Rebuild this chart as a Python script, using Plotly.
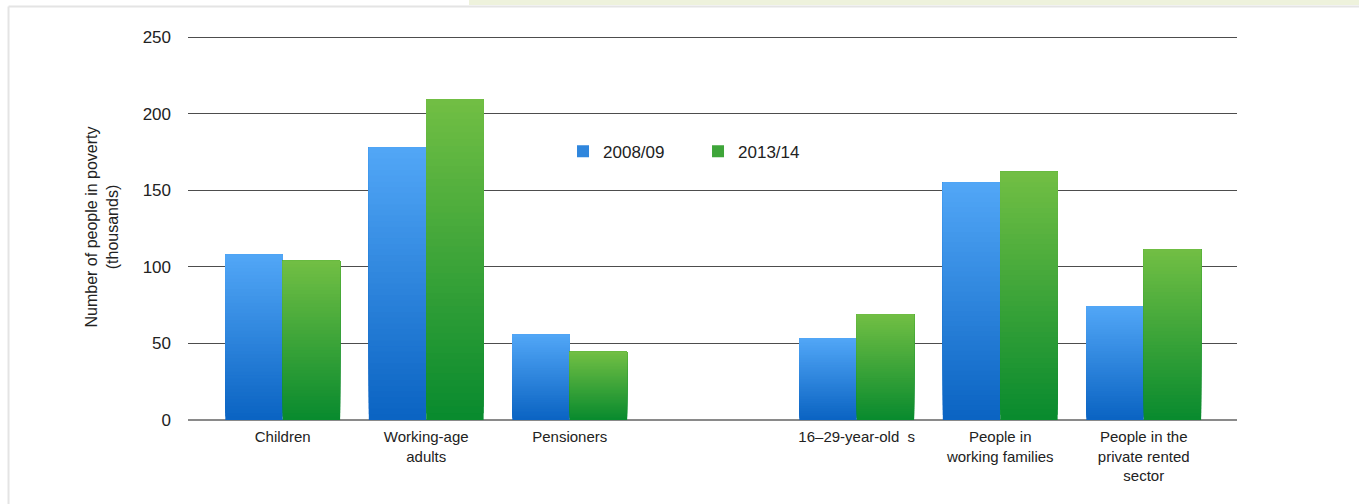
import plotly.graph_objects as go

# ---- data ----
categories = ["Children", "Working-age<br>adults", "Pensioners",
              "16–29-year-old  s", "People in<br>working families",
              "People in the<br>private rented<br>sector"]
axis_order = categories[:3] + [" "] + categories[3:]
series_names = ["2008/09", "2013/14"]
values_2008 = [108, 178, 56, 53.5, 155, 74.5]
values_2013 = [104, 209.5, 44.5, 69, 162, 111.5]
y_ticks = [0, 50, 100, 150, 200, 250]

# ---- style ----
FONT = "Liberation Sans, Arial, Helvetica, sans-serif"
grad = {
    "2008/09": ((10, 99, 194), (82, 167, 247)),   # bottom, top
    "2013/14": ((8, 138, 46), (114, 191, 68)),
}
offsets = {"2008/09": -0.4, "2013/14": 0.0}
N = 48


def mix(c0, c1, t):
    return "rgb(%d,%d,%d)" % tuple(round(a + (b - a) * t) for a, b in zip(c0, c1))


fig = go.Figure()
for name, vals in zip(series_names, [values_2008, values_2013]):
    bottom, top = grad[name]
    for i in range(N):
        t = (i + 0.5) / N
        # each layer spans from its own start up to the bar's top; later (lighter)
        # layers are painted over earlier ones, giving a seamless per-bar gradient
        fig.add_trace(go.Bar(
            x=categories,
            y=[v * (N - i) / N for v in vals],
            base=[v * i / N for v in vals],
            name=name,
            legendgroup=name,
            showlegend=(i == N // 2),
            marker=dict(color=mix(bottom, top, t), line=dict(width=0)),
            offset=offsets[name],
            width=0.4,
            hoverinfo="skip",
        ))

fig.update_layout(
    width=1359, height=504,
    margin=dict(l=188, r=122, t=34, b=84),
    barmode="overlay",
    plot_bgcolor="white", paper_bgcolor="white",
    font=dict(family=FONT, color="#222222"),
    showlegend=True,
    legend=dict(orientation="h", x=0.3575, y=0.695, xanchor="left", yanchor="middle",
                bgcolor="rgba(0,0,0,0)", font=dict(size=17, family=FONT, color="#222"),
                entrywidth=90, entrywidthmode="pixels", traceorder="normal"),
    xaxis=dict(type="category", categoryorder="array", categoryarray=axis_order,
               range=[-0.66, 6.65], showgrid=False, showline=False, zeroline=False,
               ticks="", tickfont=dict(size=15, family=FONT, color="#222"),
               ticklabelstandoff=6),
    yaxis=dict(range=[0, 252], tickvals=y_ticks, showgrid=True, gridcolor="#4d4d4d",
               gridwidth=1, zeroline=True, zerolinecolor="#8a8a8a", zerolinewidth=2,
               showline=False, ticks="", tickfont=dict(size=17, family=FONT, color="#222"),
               ticklabelstandoff=16,
               title=dict(text="Number of people in poverty<br>(thousands)",
                          font=dict(size=16, family=FONT, color="#222"), standoff=20)),
    shapes=[
        dict(type="rect", xref="paper", yref="paper", x0=0.2679, x1=1.12, y0=1.0751, y1=1.1,
             fillcolor="#eef2dc", line=dict(width=0), layer="below"),
        dict(type="line", xref="paper", yref="paper", x0=-0.1711, x1=1.12, y0=1.0712, y1=1.0712,
             line=dict(color="#e4e4e4", width=2)),
        dict(type="line", xref="paper", yref="paper", x0=-0.1711, x1=-0.1711, y0=1.0712, y1=-0.25,
             line=dict(color="#e4e4e4", width=2)),
    ],
)

fig.write_html("out.html", post_script="document.body.style.margin='0';",
               config={"displayModeBar": False})
